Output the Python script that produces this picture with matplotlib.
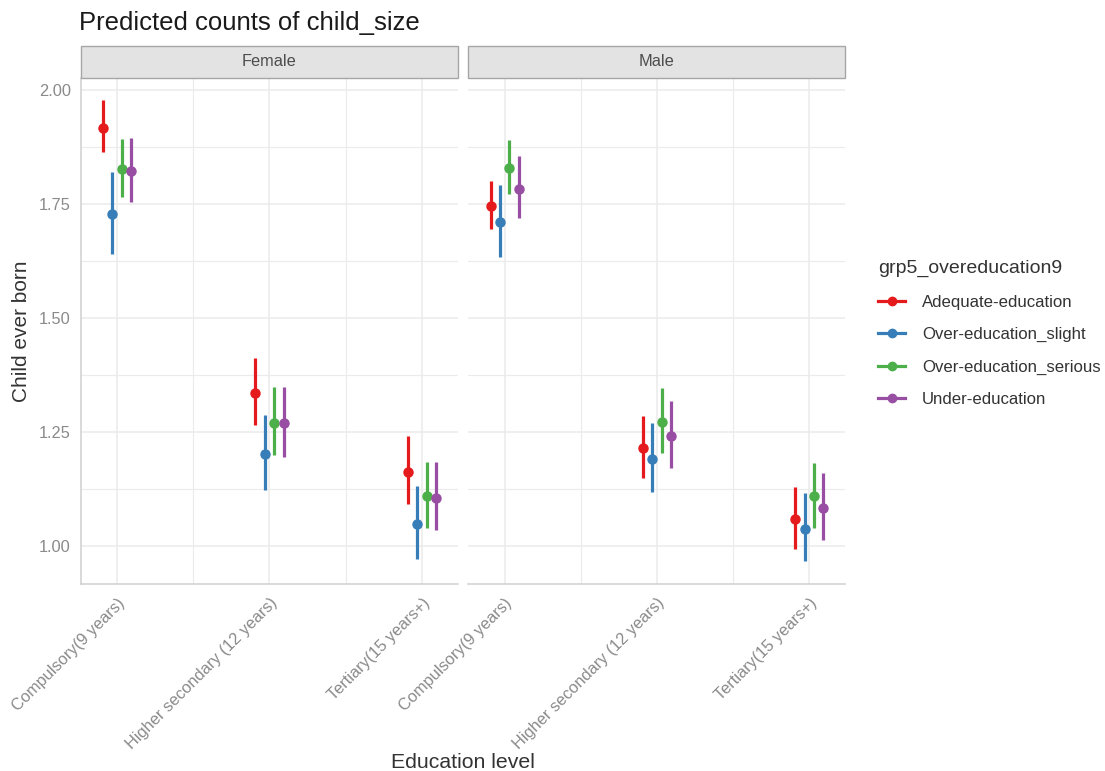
"""
Predicted counts of child_size by education level, sex and overeducation group.

Facetted pointrange chart (Female / Male), ggplot-minimal look.

Usage: python plot.py
"""

import matplotlib
matplotlib.use("Agg")
import matplotlib.pyplot as plt
from matplotlib.lines import Line2D
from matplotlib.patches import Rectangle
import numpy as np

plt.rcParams.update({
    "font.family": ["Liberation Sans", "DejaVu Sans"],
    "axes.unicode_minus": False,
})

# ================================================================
# Data
# ================================================================
EDU_LEVELS = ["Compulsory(9 years)", "Higher secondary (12 years)", "Tertiary(15 years+)"]
SEXES = ["Female", "Male"]
GROUPS = ["Adequate-education", "Over-education_slight",
          "Over-education_serious", "Under-education"]
COLORS = ["#E41A1C", "#377EB8", "#4DAF4A", "#984EA3"]

# rows = GROUPS, cols = EDU_LEVELS
FEMALE_FIT = np.array([
    [1.917, 1.335, 1.163],
    [1.727, 1.202, 1.048],
    [1.827, 1.270, 1.110],
    [1.823, 1.270, 1.106],
])
FEMALE_LO = np.array([
    [1.865, 1.265, 1.092],
    [1.640, 1.123, 0.971],
    [1.765, 1.200, 1.039],
    [1.754, 1.195, 1.034],
])
FEMALE_HI = np.array([
    [1.977, 1.412, 1.241],
    [1.821, 1.287, 1.132],
    [1.892, 1.349, 1.185],
    [1.895, 1.349, 1.185],
])

MALE_FIT = np.array([
    [1.746, 1.216, 1.059],
    [1.710, 1.190, 1.037],
    [1.829, 1.273, 1.110],
    [1.784, 1.242, 1.084],
])
MALE_LO = np.array([
    [1.695, 1.150, 0.993],
    [1.634, 1.118, 0.967],
    [1.771, 1.203, 1.040],
    [1.720, 1.170, 1.013],
])
MALE_HI = np.array([
    [1.801, 1.284, 1.130],
    [1.792, 1.269, 1.116],
    [1.890, 1.347, 1.183],
    [1.855, 1.319, 1.159],
])

PANEL_DATA = {
    "Female": (FEMALE_FIT, FEMALE_LO, FEMALE_HI),
    "Male": (MALE_FIT, MALE_LO, MALE_HI),
}

# ================================================================
# Style
# ================================================================
W, H = 1105, 771
GRID_COLOR = "#EBEBEB"
AXIS_LINE = "#CFCFCF"
TICK_COLOR = "#8A8A8A"
TEXT_DARK = "#1A1A1A"
DODGE = 0.0615
TICK_SIZE = 11.8


def fx(px):
    return px / W


def fy(py):
    return 1 - py / H


def draw_panel(ax, sex, show_y):
    fit, lo, hi = PANEL_DATA[sex]
    x = np.arange(1, len(EDU_LEVELS) + 1)
    offsets = (np.arange(len(GROUPS)) - (len(GROUPS) - 1) / 2) * DODGE

    for g, (name, color) in enumerate(zip(GROUPS, COLORS)):
        xs = x + offsets[g]
        ax.vlines(xs, lo[g], hi[g], color=color, lw=2.3, zorder=3)
        ax.plot(xs, fit[g], "o", color=color, ms=6.5, zorder=4)

    ax.set_xlim(0.76, 3.235)
    ax.set_ylim(0.916, 2.027)
    ax.set_xticks(x)
    ax.set_xticks([1.5, 2.5], minor=True)
    ax.set_xticklabels(EDU_LEVELS, rotation=45, ha="right", va="top",
                       rotation_mode="anchor", color=TICK_COLOR, fontsize=TICK_SIZE)
    ax.set_yticks([1.00, 1.25, 1.50, 1.75, 2.00])
    ax.set_yticks([1.125, 1.375, 1.625, 1.875], minor=True)
    if show_y:
        ax.set_yticklabels(["1.00", "1.25", "1.50", "1.75", "2.00"],
                           color=TICK_COLOR, fontsize=TICK_SIZE)
    else:
        ax.set_yticklabels([])

    ax.tick_params(which="both", length=0)
    ax.tick_params(axis="y", pad=7)
    ax.tick_params(axis="x", pad=8)
    ax.grid(True, which="major", color=GRID_COLOR, lw=1.1, zorder=0)
    ax.grid(True, which="minor", color=GRID_COLOR, lw=0.8, zorder=0)
    ax.set_axisbelow(True)

    for side in ["top", "right"]:
        ax.spines[side].set_visible(False)
    ax.spines["left"].set_visible(show_y)
    ax.spines["left"].set_color(AXIS_LINE)
    ax.spines["bottom"].set_color(AXIS_LINE)
    ax.spines["left"].set_linewidth(1.1)
    ax.spines["bottom"].set_linewidth(1.1)


def draw_strip(fig, x0, x1, label):
    rect = Rectangle((fx(x0), fy(77.5)), fx(x1) - fx(x0), fy(45.5) - fy(77.5),
                     transform=fig.transFigure, facecolor="#E3E3E3",
                     edgecolor="#A6A6A6", lw=1.0)
    fig.add_artist(rect)
    fig.text(fx((x0 + x1) / 2), fy(61.5), label, ha="center", va="center",
             fontsize=TICK_SIZE, color="#4D4D4D")


# ================================================================
# Main
# ================================================================
def main():
    fig = plt.figure(figsize=(W / 100, H / 100), dpi=100)

    panels = [(80.5, 457.7), (468.0, 845.0)]
    top, bottom = 77.7, 584.3
    for i, (sex, (x0, x1)) in enumerate(zip(SEXES, panels)):
        ax = fig.add_axes([fx(x0), fy(bottom), fx(x1) - fx(x0), fy(top) - fy(bottom)])
        draw_panel(ax, sex, show_y=(i == 0))
        draw_strip(fig, x0, x1, sex)

    fig.text(fx(79), fy(23), "Predicted counts of child_size", ha="left",
             va="center", fontsize=18.5, color=TEXT_DARK)
    fig.text(fx(22), fy(331), "Child ever born", rotation=90, ha="center",
             va="center", fontsize=15, color="#333333")
    fig.text(fx(463), fy(762), "Education level", ha="center", va="center",
             fontsize=15.3, color="#333333")

    handles = [Line2D([0], [0], color=c, lw=2.3, marker="o", ms=6)
               for c in COLORS]
    leg = fig.legend(handles, GROUPS, loc="upper left",
                     bbox_to_anchor=(fx(863), fy(245)), frameon=False,
                     title="grp5_overeducation9", title_fontsize=14,
                     fontsize=12.1, handlelength=1.6, handletextpad=1.0,
                     labelspacing=1.03)
    leg._legend_box.align = "left"
    for t in leg.get_texts():
        t.set_color("#333333")
    leg.get_title().set_color("#333333")

    fig.savefig("out.png", dpi=100)
    plt.close(fig)


if __name__ == "__main__":
    main()
